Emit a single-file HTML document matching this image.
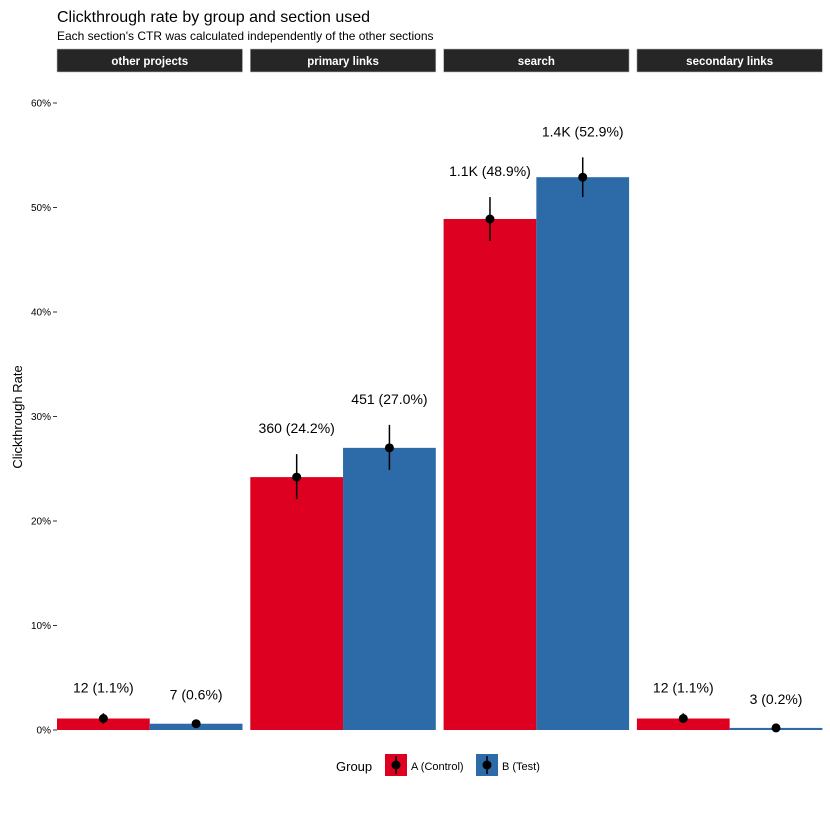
<!DOCTYPE html>
<html><head><meta charset="utf-8"><style>
body{margin:0;background:#fff}
svg{font-family:"Liberation Sans",sans-serif}
</style></head><body>
<svg id="c" width="830" height="830" xmlns="http://www.w3.org/2000/svg">
<text x="57" y="22" font-size="16" fill="#000">Clickthrough rate by group and section used</text>
<text x="57" y="40" font-size="12" fill="#000">Each section's CTR was calculated independently of the other sections</text>
<text transform="translate(22,417) rotate(-90)" text-anchor="middle" font-size="13">Clickthrough Rate</text>
<g id="g"></g>
<g>
<text x="336" y="771" font-size="13">Group</text>
<g><rect x="385" y="754" width="22" height="22" fill="#DD0020"/><line x1="396" y1="756" x2="396" y2="774" stroke="#000" stroke-width="1.5"/><circle cx="396" cy="765" r="4.5"/><text x="411" y="770" font-size="11">A (Control)</text></g>
<g><rect x="476" y="754" width="22" height="22" fill="#2C6AA8"/><line x1="487" y1="756" x2="487" y2="774" stroke="#000" stroke-width="1.5"/><circle cx="487" cy="765" r="4.5"/><text x="502" y="770" font-size="11">B (Test)</text></g>
</g>
</svg>
<script>
const sections=["other projects","primary links","search","secondary links"];
const ctrA=[1.1,24.2,48.9,1.1];
const ctrB=[0.6,27.0,52.9,0.2];
const lowA=[0.6,22.1,46.8,0.7];
const highA=[1.6,26.4,51.0,1.6];
const lowB=[0.3,24.9,51.0,0.0];
const highB=[0.9,29.2,54.8,0.5];
const labelsA=["12 (1.1%)","360 (24.2%)","1.1K (48.9%)","12 (1.1%)"];
const labelsB=["7 (0.6%)","451 (27.0%)","1.4K (52.9%)","3 (0.2%)"];
const ticks=[0,10,20,30,40,50,60];
const NS="http://www.w3.org/2000/svg";
const g=document.getElementById('g');
const y=v=>730-v*(627/60);
const px=i=>57+i*193.3;
const pw=185.5;
function mk(t,a,p){const e=document.createElementNS(NS,t);for(const k in a)e.setAttribute(k,a[k]);(p||g).appendChild(e);return e;}
ticks.forEach(t=>{
 const tk=mk('line',{x1:53,x2:57,y1:y(t),y2:y(t),stroke:'#333'});
 
 
 const tl=mk('text',{x:51,y:y(t)+3.5,'text-anchor':'end','font-size':10});
 tl.textContent=t+'%';
 
 
});
sections.forEach((s,i)=>{
 const x0=px(i);
 const st=mk('rect',{x:x0,y:49,width:pw,height:23,fill:'#262626',stroke:'#bbb','stroke-width':0.6});
 
 
 const sl=mk('text',{x:x0+pw/2,y:65,'text-anchor':'middle','font-size':11.5,'font-weight':'bold',fill:'#fff'});
 sl.textContent=s;
 
 
 [[ctrA,lowA,highA,labelsA,'#DD0020',0,'a'],[ctrB,lowB,highB,labelsB,'#2C6AA8',1,'b']].forEach(([v,lo,hi,lb,col,k,n])=>{
  const bx=x0+k*pw/2, cx=bx+pw/4;
  const b=mk('rect',{x:bx,y:y(v[i]),width:pw/2,height:730-y(v[i]),fill:col});
  
  
  const e=mk('line',{x1:cx,x2:cx,y1:y(lo[i]),y2:y(hi[i]),stroke:'#000','stroke-width':1.5});
  
  
  const p=mk('circle',{cx:cx,cy:y(v[i]),r:4.5,fill:'#000'});
  
  
  const t=mk('text',{x:cx,y:y(hi[i])-21,'text-anchor':'middle','font-size':14});
  t.textContent=lb[i];
  
  
 });
});
</script>
</body></html>
